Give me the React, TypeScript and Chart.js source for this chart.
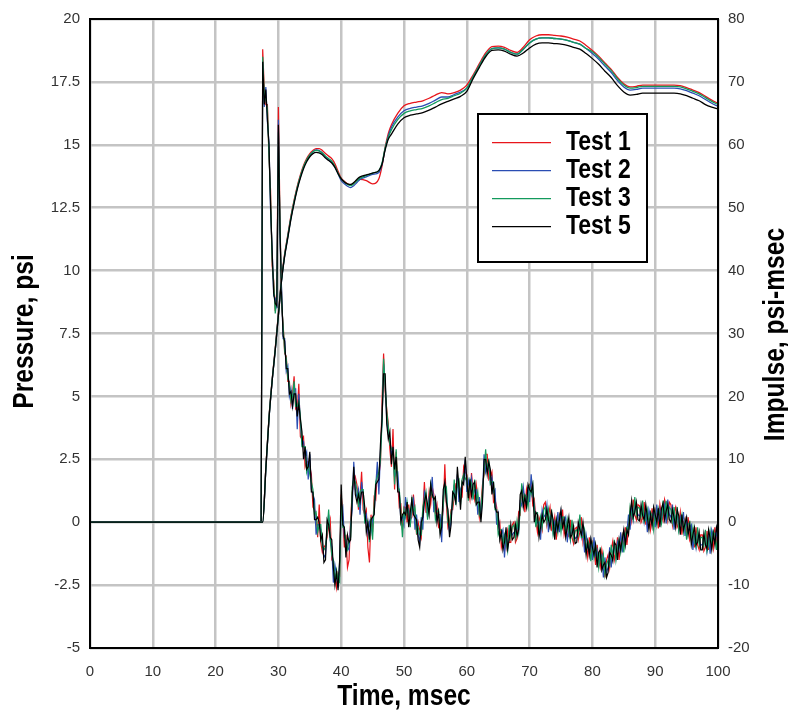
import React, { useEffect, useRef } from "react";
import { Chart, registerables } from "chart.js";

Chart.register(...registerables);

// ---------- labels & ticks ----------
const TEST_LABELS = ["Test 1", "Test 2", "Test 3", "Test 5"];
const TEST_COLORS = ["#e8151b", "#2a4db3", "#139a5c", "#000000"];
const X_TICKS = [0, 10, 20, 30, 40, 50, 60, 70, 80, 90, 100];
const PRESSURE_TICKS = [-5, -2.5, 0, 2.5, 5, 7.5, 10, 12.5, 15, 17.5, 20];
const IMPULSE_TICKS = [-20, -10, 0, 10, 20, 30, 40, 50, 60, 70, 80];
const X_TITLE = "Time, msec";
const Y_TITLE = "Pressure, psi";
const Y1_TITLE = "Impulse, psi-msec";

// ---------- pressure (psi): t = 0, then 27.25 .. 100 every 0.25 ms ----------
const PRESSURE_TIME = [0, ...Array.from({ length: 292 }, (_, i) => 27.25 + i * 0.25)];

const TEST1_PRESSURE = [0, 0,
  18.8, 17.2, 16.6, 16.6, 14.5, 13.2, 10.2, 9.6, 8.4, 9.2, 16.5, 12.2, 8.6, 7.9, 6.7, 6.6, 5.6, 5.6, 4.7, 5.1,
  5.8, 4.5, 4.4, 5.5, 3.4, 3.3, 3.4, 2.2, 2.4, 2.4, 2.2, 1.9, 0.6, 0.5, 0.3, -0.6, 0.7, -0.8, -1.2, -1.0,
  -0.9, -0.6, -0.2, 0.1, -1.5, -1.6, -2.1, -2.6, -2.0, -2.1, 1.1, 0.2, -1.0, -0.5, -1.8, -1.5, 0.1, 1.2, 1.6, 1.8,
  1.5, 0.5, 1.0, 2.0, 0.5, 0.3, 0.5, -1.0, -1.6, 0.3, -0.4, 1.0, 0.9, 2.0, 1.9, 2.3, 4.8, 6.7, 5.2, 4.5,
  3.9, 2.9, 2.2, 3.7, 1.3, 2.8, 1.6, 0.6, 0.7, -0.3, 0.6, 0.6, 0.0, 0.7, 0.1, 0.2, 1.1, 0.4, -0.5, 0.0,
  -0.3, -0.6, 0.4, 1.6, 0.4, 0.4, 1.2, 0.7, 1.4, 1.1, 0.4, 0.7, -0.2, -0.1, 0.0, 0.5, 2.3, 0.7, -0.2, 0.0,
  0.5, 0.5, 1.0, 1.5, 1.4, 1.6, 0.9, 1.0, 2.2, 2.0, 1.9, 1.25, 0.9, 1.95, 1.2, 0.9, 1.5, 1.0, 0.2, 0.7,
  1.5, 1.9, 2.7, 2.7, 1.7, 1.8, 2.0, 0.8, 0.9, 0.6, -0.2, 0.0, -1.0, -0.7, -0.6, -1.0, -0.35, -0.8, -0.8, -0.1,
  0.0, -0.8, -0.65, 0.4, 0.3, 1.45, 1.0, 0.4, 1.3, 0.9, 1.5, 1.5, 0.7, 0.9, 0.1, -0.4, 0.2, 0.0, -0.3, 0.7,
  0.8, -0.1, 0.3, 0.6, -0.3, -0.2, 0.2, -0.7, 0.0, 0.3, -0.1, 0.5, -0.5, -0.2, 0.0, -0.6, 0.1, -0.6, -0.85, -0.25,
  -0.2, -0.7, -0.4, 0.2, -0.8, -0.4, -0.9, -1.4, -0.6, -1.25, -0.8, -1.0, -1.7, -0.9, -1.5, -1.8, -1.1, -1.5, -2.2, -1.5,
  -1.3, -1.8, -1.1, -0.75, -1.5, -1.2, -0.6, -1.5, -0.8, -0.5, -0.9, -0.2, -0.9, -0.1, 0.5, 0.06, 0.9, 0.3, 0.1, 0.7,
  0.65, 0.0, 0.16, 0.8, -0.1, 0.4, 0.1, -0.3, 0.55, 0.0, 0.5, 0.3, -0.25, 0.7, 0.25, 0.06, 0.9, 0.65, 0.1, 0.8,
  0.7, -0.1, 0.4, 0.6, -0.2, -0.05, 0.4, -0.5, 0.0, 0.15, -0.4, 0.2, -0.7, -0.5, -0.3, -1.0, -0.2, -0.9, -1.1, -0.5,
  -0.5, -1.15, -1.0, -0.35, -1.1, -0.45, -0.7, -1.05, -0.2, -0.8, -0.3];

const TEST2_PRESSURE = [0, 0,
  18.3, 16.5, 17.3, 15.9, 15.1, 12.4, 10.9, 9.0, 8.9, 8.5, 16.0, 11.4, 9.3, 7.3, 7.3, 6.0, 6.2, 5.0, 5.3, 4.5,
  5.3, 5.3, 3.7, 5.1, 4.0, 3.1, 3.2, 2.6, 2.8, 1.7, 2.7, 1.3, 1.1, 0.9, -0.5, -0.1, -0.1, -0.3, -0.8, -1.4,
  -1.3, -0.2, 0.3, -0.7, -1.0, -2.4, -1.7, -2.1, -2.6, -1.6, 0.4, 0.6, -0.6, -0.7, -1.0, -1.1, -0.1, 0.5, 2.4, 1.3,
  1.0, 1.3, 0.3, 1.6, 1.1, 0.1, 0.3, -0.4, 0.0, -0.4, 0.1, 0.4, 1.4, 2.4, 1.1, 2.8, 4.0, 6.3, 5.6, 4.1,
  3.5, 3.3, 2.7, 2.9, 1.8, 2.0, 2.0, 1.1, 0.1, 0.2, -0.1, 1.0, 0.4, 0.5, -0.1, 0.6, 0.9, -0.3, 0.3, -0.5,
  -0.8, 0.2, -0.3, 1.2, 1.0, 0.2, 1.0, 1.1, 1.8, 0.4, 0.9, 0.1, 0.3, 0.3, -0.8, 1.0, 1.5, 1.2, 0.2, -0.4,
  0.1, 0.9, 1.5, 0.7, 1.9, 0.8, 1.3, 1.5, 1.6, 2.5, 1.2, 1.65, 1.3, 1.75, 1.0, 1.3, 1.3, 0.3, 1.0, 0.2,
  1.0, 2.7, 2.0, 2.3, 2.3, 1.6, 1.8, 1.2, 1.3, -0.1, 0.3, -0.6, -0.5, -0.3, -1.4, -0.5, -1.15, -0.3, -0.4, -0.5,
  -0.4, -0.4, -0.15, -0.4, 0.8, 0.65, 1.4, 0.9, 0.7, 1.4, 0.8, 1.9, 1.1, 0.7, -0.1, 0.0, 0.0, -0.7, 0.5, 0.2,
  0.3, 0.7, -0.4, 0.2, 0.3, -0.4, 0.0, -0.3, 0.4, -0.4, 0.4, -0.1, 0.0, 0.2, -0.8, -0.1, -0.7, -0.1, -0.45, -0.65,
  -0.6, -0.3, 0.1, -0.6, -0.3, -1.2, -0.5, -0.9, -1.2, -0.75, -1.5, -0.6, -1.3, -1.1, -1.7, -1.4, -1.3, -2.2, -1.4, -2.0,
  -1.8, -1.0, -1.8, -1.15, -0.9, -1.4, -0.8, -1.1, -0.4, -1.2, -0.4, -0.8, -0.4, 0.3, -0.3, 0.56, 0.1, 0.8, 0.5, 0.3,
  0.25, 0.4, 0.66, 0.0, 0.4, -0.4, 0.5, 0.2, -0.05, 0.5, -0.2, 0.7, 0.15, 0.5, 0.05, 0.46, 0.7, -0.05, 0.9, 0.3,
  0.2, 0.7, -0.3, 0.2, 0.4, -0.25, 0.2, -0.1, 0.4, -0.55, 0.1, -0.4, -0.2, -0.1, -1.1, -0.5, -1.0, -0.4, -0.7, -0.9,
  -0.9, -0.75, -0.5, -1.15, -0.6, -1.25, -0.3, -0.55, -0.8, -0.3, -1.0];

const TEST3_PRESSURE = [0, 0,
  18.5, 17.0, 16.8, 16.4, 14.6, 12.9, 10.4, 9.5, 8.3, 8.9, 15.5, 12.0, 8.8, 7.8, 6.8, 6.5, 5.7, 5.5, 4.8, 5.0,
  5.6, 4.6, 4.6, 4.8, 4.2, 3.0, 3.0, 3.0, 2.0, 2.3, 1.9, 1.6, 1.3, 0.3, 0.4, -0.4, -0.1, -0.1, -1.0, -1.1,
  -1.0, -0.4, 0.5, -0.7, -1.3, -1.5, -2.3, -1.9, -2.3, -2.4, 1.0, -0.2, -0.2, -0.9, -1.1, -0.7, -0.6, 1.4, 1.7, 1.6,
  1.3, 0.6, 1.2, 1.3, 1.3, 0.0, 0.1, 0.0, -0.8, 0.2, -0.7, 0.7, 1.6, 1.8, 2.0, 2.5, 4.0, 6.5, 5.4, 4.4,
  3.8, 3.1, 2.9, 2.9, 1.5, 2.9, 1.4, 1.3, 0.4, -0.6, 0.5, 0.2, 0.8, 0.3, -0.2, 1.0, 0.4, 0.6, -0.4, -0.2,
  -0.5, -0.5, 0.6, 0.9, 1.2, 0.1, 0.8, 1.5, 1.0, 1.0, 0.1, 0.4, 0.5, -0.3, 0.1, 0.7, 1.5, 1.4, 0.0, -0.1,
  0.4, 0.7, 1.7, 0.7, 1.6, 1.7, 0.7, 1.7, 1.9, 1.7, 1.8, 0.85, 1.7, 1.55, 0.9, 1.7, 0.8, 1.2, 0.3, 0.5,
  1.3, 2.0, 2.9, 2.0, 2.5, 1.5, 1.6, 1.6, 0.5, 0.5, -0.5, -0.3, -0.3, -0.9, -0.5, -0.8, -1.15, -0.1, -0.6, -0.2,
  -0.1, -0.6, 0.05, -0.4, 0.5, 1.55, 0.8, 1.1, 1.0, 0.6, 1.4, 1.1, 1.5, 0.5, -0.2, 0.4, -0.5, 0.2, -0.2, 0.5,
  0.6, 0.0, 0.5, -0.1, 0.5, -0.5, -0.2, 0.1, -0.4, 0.2, -0.4, 0.2, 0.2, -0.4, 0.1, -0.4, -0.7, 0.1, -0.65, -0.35,
  -0.3, -0.5, 0.3, -0.6, -0.6, -0.3, -1.1, -0.7, -0.9, -1.55, -0.9, -1.4, -0.9, -1.3, -1.8, -1.0, -1.8, -1.3, -2.1, -1.7,
  -1.5, -1.7, -0.9, -1.45, -0.7, -1.5, -1.0, -0.7, -1.2, -0.6, -1.2, -0.5, -0.2, -0.3, 0.6, 0.26, 0.1, 1.0, 0.3, 0.6,
  0.55, 0.2, 0.86, 0.0, 0.1, 0.5, -0.1, 0.4, 0.25, -0.3, 0.4, -0.1, 0.55, 0.3, -0.05, 0.86, 0.2, 0.85, 0.2, 0.6,
  0.5, 0.0, 0.6, -0.1, 0.6, -0.35, 0.0, 0.3, -0.4, 0.05, -0.7, -0.1, 0.0, -0.7, -0.2, -0.8, -1.0, -0.2, -0.9, -0.6,
  -0.6, -0.95, -0.3, -1.15, -0.9, -0.35, -0.9, -0.35, -0.5, -1.1, -0.4];

const TEST5_PRESSURE = [0, 0,
  18.3, 16.6, 17.2, 16.0, 15.0, 12.6, 10.8, 9.1, 8.7, 8.6, 15.8, 11.6, 9.2, 7.4, 7.2, 6.1, 6.1, 5.1, 5.2, 4.6,
  5.1, 5.1, 4.2, 4.7, 4.1, 3.6, 2.5, 3.0, 2.1, 2.2, 2.8, 1.2, 1.2, 0.1, 0.1, 0.2, 0.0, -0.7, -0.5, -1.6,
  -1.5, 0.1, -0.1, -0.6, -0.7, -1.8, -2.5, -2.0, -2.7, -1.5, 1.5, -0.1, -0.2, -1.4, -0.5, -0.8, -0.7, 1.0, 2.2, 1.1,
  0.8, 1.1, 0.8, 1.2, 1.2, 0.6, -0.4, 0.0, -0.7, 0.1, 0.2, 0.3, 1.5, 1.6, 1.7, 3.1, 4.1, 5.9, 5.9, 3.9,
  3.3, 3.6, 2.3, 3.0, 2.1, 2.6, 1.2, 1.2, 0.0, 0.3, 0.4, 0.3, 0.8, -0.2, 0.4, 0.9, 0.3, 0.2, 0.1, -0.7,
  -1.0, 0.0, 0.2, 0.8, 1.1, 0.7, 0.3, 1.5, 1.1, 0.9, 1.0, 0.0, 0.4, -0.5, -0.2, 1.3, 1.6, 0.8, 0.5, -0.6,
  -0.1, 1.2, 1.1, 0.8, 2.2, 1.4, 0.5, 1.6, 1.5, 2.6, 1.7, 0.95, 1.7, 1.05, 1.5, 1.6, 0.7, 0.8, 0.8, 0.0,
  0.8, 2.5, 2.5, 1.9, 2.4, 2.1, 1.1, 1.6, 0.6, 0.4, 0.4, -0.7, -0.4, -1.1, -0.8, -0.2, -1.05, -0.7, -0.1, -0.7,
  -0.6, -0.1, -0.55, -0.3, 1.1, 1.25, 0.6, 1.0, 0.6, 1.5, 1.3, 1.2, 1.5, 0.0, 0.4, 0.3, -0.6, -0.2, 0.3, 0.0,
  0.1, 0.5, 0.1, -0.2, 0.4, 0.1, -0.7, 0.1, -0.3, 0.1, 0.5, -0.2, 0.1, -0.6, -0.2, 0.2, -0.6, -0.5, -0.15, -0.85,
  -0.8, 0.0, -0.3, -0.5, 0.0, -0.6, -1.3, -0.8, -1.3, -0.65, -1.0, -1.3, -0.9, -1.8, -1.2, -1.1, -1.9, -1.7, -1.6, -2.2,
  -2.0, -1.2, -1.3, -1.55, -0.8, -0.9, -1.5, -0.7, -1.1, -0.7, -0.3, -0.9, -0.3, -0.5, 0.3, 0.86, 0.2, 0.4, 0.8, 0.1,
  0.05, 0.7, 0.26, 0.1, 0.7, 0.2, -0.3, 0.3, -0.15, 0.6, 0.3, 0.0, 0.55, -0.2, 0.55, 0.76, 0.1, 0.45, 0.7, 0.1,
  0.0, 0.5, 0.2, -0.2, 0.5, 0.25, -0.5, 0.3, -0.3, -0.05, 0.2, -0.5, -0.1, -0.9, -0.5, -0.2, -0.9, -0.8, -0.4, -1.1,
  -1.1, -0.45, -0.9, -1.05, -0.3, -0.65, -1.1, -0.45, -0.9, -0.2, -0.5];

// ---------- impulse (psi-msec) ----------
const IMPULSE_TIME = [0, 27.5,
  28, 28.5, 29, 29.5, 30, 30.5, 31, 31.5, 32, 32.5, 33, 33.5, 34, 34.5, 35, 35.5, 36, 36.5, 37, 37.5,
  38, 38.5, 39, 39.5, 40, 40.5, 41, 41.5, 42, 42.5, 43,
  44, 45, 46, 46.5, 47, 47.5,
  48, 49, 50, 51, 52, 53, 54, 55, 56, 57, 58, 59, 60, 61, 62, 63, 64, 65, 66, 67, 68, 69, 70, 71, 72, 73,
  74, 75, 76, 77, 78, 79, 80, 81, 82, 83, 84, 85, 86, 87, 88, 89, 90, 91, 92, 93, 94, 95, 96, 97, 98, 99, 100];

const TEST1_IMPULSE = [0, 0,
  8.6, 16.6, 22.6, 27.7, 33.2, 38.7, 42.7, 45.7, 48.7, 51.2, 53.4, 55.2, 56.7, 57.8, 58.6, 59.1, 59.4, 59.4, 59.1, 58.6,
  58.2, 57.8, 57.0, 55.8, 54.7, 54.2, 53.8, 53.6, 53.9, 54.4, 54.5,
  54.3, 53.8, 54.6, 56.6, 59.6, 61.8,
  63.2, 65.0, 66.2, 66.6, 66.8, 67.0, 67.4, 67.9, 68.3, 68.1, 68.3, 68.7, 69.5, 71.1, 72.9, 74.6, 75.6, 75.7, 75.5, 75.0, 74.7, 75.5, 76.7, 77.3, 77.5, 77.5,
  77.4, 77.3, 77.1, 76.8, 76.5, 75.8, 75.0, 74.1, 73.0, 72.0, 70.7, 69.7, 69.2, 69.3, 69.5, 69.5, 69.5, 69.5, 69.5, 69.5, 69.4, 69.1, 68.7, 68.3, 67.7, 67.1, 66.6];

const TEST2_IMPULSE = [0, 0,
  8.4, 16.4, 22.4, 27.4, 32.9, 38.4, 42.4, 45.4, 48.4, 50.9, 53.1, 54.9, 56.4, 57.5, 58.3, 58.9, 59.2, 59.1, 58.7, 58.1,
  57.6, 57.2, 56.5, 55.4, 54.3, 53.8, 53.4, 53.2, 53.5, 54.0, 54.5,
  54.9, 55.3, 55.6, 56.9, 59.4, 61.4,
  62.8, 64.4, 65.4, 65.8, 66.0, 66.2, 66.6, 67.1, 67.6, 67.6, 68.0, 68.4, 69.0, 70.8, 72.6, 74.3, 75.3, 75.4, 75.2, 74.7, 74.4, 75.2, 76.2, 76.8, 77.0, 77.0,
  76.9, 76.8, 76.6, 76.3, 76.0, 75.3, 74.5, 73.6, 72.5, 71.5, 70.2, 69.2, 68.7, 68.8, 69.0, 69.0, 69.0, 69.0, 69.0, 69.0, 68.9, 68.6, 68.2, 67.8, 67.2, 66.6, 66.1];

const TEST3_IMPULSE = [0, 0,
  8.5, 16.5, 22.5, 27.5, 33.0, 38.5, 42.5, 45.5, 48.5, 51.0, 53.2, 55.0, 56.5, 57.6, 58.4, 58.9, 59.1, 59.0, 58.7, 58.2,
  57.8, 57.4, 56.6, 55.5, 54.6, 54.1, 53.7, 53.5, 53.8, 54.3, 54.7,
  55.1, 55.5, 55.9, 57.1, 59.5, 61.2,
  62.4, 64.0, 65.0, 65.4, 65.6, 65.8, 66.2, 66.7, 67.2, 67.4, 67.8, 68.2, 69.0, 70.8, 72.6, 74.3, 75.3, 75.4, 75.2, 74.7, 74.4, 75.2, 76.2, 76.8, 77.0, 77.0,
  76.9, 76.8, 76.6, 76.3, 76.0, 75.3, 74.8, 73.9, 72.8, 71.8, 70.5, 69.5, 69.0, 69.1, 69.3, 69.3, 69.3, 69.3, 69.3, 69.3, 69.2, 68.9, 68.5, 68.1, 67.5, 66.9, 66.4];

const TEST5_IMPULSE = [0, 0,
  8.5, 16.4, 22.4, 27.4, 32.9, 38.4, 42.3, 45.2, 48.2, 50.7, 52.9, 54.7, 56.2, 57.3, 58.1, 58.6, 58.8, 58.7, 58.4, 57.9,
  57.5, 57.1, 56.4, 55.4, 54.6, 54.1, 53.8, 53.7, 54.0, 54.5, 54.9,
  55.2, 55.5, 55.9, 56.9, 59.2, 60.9,
  61.7, 63.3, 64.3, 64.7, 64.9, 65.1, 65.5, 66.0, 66.5, 66.9, 67.3, 67.7, 68.5, 70.5, 72.3, 74.0, 75.0, 75.1, 74.9, 74.4, 74.1, 74.6, 75.4, 76.0, 76.2, 76.2,
  76.1, 76.0, 75.8, 75.5, 75.2, 74.5, 73.7, 72.8, 71.7, 70.7, 69.4, 68.4, 67.9, 68.0, 68.2, 68.2, 68.2, 68.2, 68.2, 68.2, 68.1, 67.8, 67.4, 67.0, 66.4, 66.0, 65.7];

const PRESSURE_SERIES = [TEST1_PRESSURE, TEST2_PRESSURE, TEST3_PRESSURE, TEST5_PRESSURE];
const IMPULSE_SERIES = [TEST1_IMPULSE, TEST2_IMPULSE, TEST3_IMPULSE, TEST5_IMPULSE];

// ---------- styling ----------
const W = 788;
const H = 711;
const GRID_COLOR = "#c4c4c4";
const TICK_COLOR = "#333333";
const TICK_FONT = { family: "'Liberation Sans', Arial, sans-serif", size: 15 };
const BOLD_FAMILY = "'Liberation Sans', Arial, sans-serif";
const NARROW = 0.82;

function pairs(times: number[], values: number[]) {
  const n = Math.min(times.length, values.length);
  const out: { x: number; y: number }[] = [];
  for (let i = 0; i < n; i++) out.push({ x: times[i], y: values[i] });
  return out;
}

function fmt(v: number) {
  return String(Math.round(v * 100) / 100);
}

function narrowText(ctx: CanvasRenderingContext2D, text: string, x: number, y: number, rot: number, px: number, align: CanvasTextAlign) {
  ctx.save();
  ctx.translate(x, y);
  ctx.rotate(rot);
  ctx.scale(NARROW, 1);
  ctx.font = `bold ${px}px ${BOLD_FAMILY}`;
  ctx.fillStyle = "#000";
  ctx.textAlign = align;
  ctx.textBaseline = "middle";
  ctx.fillText(text, 0, 0);
  ctx.restore();
}

const decorPlugin = {
  id: "decor",
  beforeDraw(chart: any) {
    const ctx = chart.ctx;
    ctx.save();
    ctx.fillStyle = "#ffffff";
    ctx.fillRect(0, 0, chart.width, chart.height);
    ctx.restore();
  },
  afterDatasetsDraw(chart: any) {
    const { ctx, chartArea: a } = chart;
    ctx.save();
    ctx.strokeStyle = "#000";
    ctx.lineWidth = 2;
    ctx.strokeRect(a.left, a.top, a.right - a.left, a.bottom - a.top);
    ctx.restore();
  },
  afterDraw(chart: any) {
    const { ctx, chartArea: a } = chart;
    const midY = (a.top + a.bottom) / 2;
    narrowText(ctx, X_TITLE, (a.left + a.right) / 2, 697, 0, 30, "center");
    narrowText(ctx, Y_TITLE, 24.5, midY - 2, -Math.PI / 2, 30, "center");
    narrowText(ctx, Y1_TITLE, 776, midY + 1, -Math.PI / 2, 30, "center");
    const bx = 478, by = 114, bw = 169, bh = 148;
    ctx.save();
    ctx.fillStyle = "#fff";
    ctx.fillRect(bx, by, bw, bh);
    ctx.strokeStyle = "#000";
    ctx.lineWidth = 2;
    ctx.strokeRect(bx, by, bw, bh);
    TEST_LABELS.forEach((lab, i) => {
      const y = 142.7 + i * 28;
      ctx.strokeStyle = TEST_COLORS[i];
      ctx.lineWidth = 1.3;
      ctx.beginPath();
      ctx.moveTo(492, y);
      ctx.lineTo(551, y);
      ctx.stroke();
      narrowText(ctx, lab, 566, y, 0, 28, "left");
    });
    ctx.restore();
  },
};

export default function App() {
  const ref = useRef<HTMLCanvasElement | null>(null);

  useEffect(() => {
    document.body.style.margin = "0";
    const canvas = ref.current;
    if (!canvas) return;

    const datasets: any[] = [];
    PRESSURE_SERIES.forEach((vals, i) => {
      datasets.push({
        label: TEST_LABELS[i] + " pressure",
        data: pairs(PRESSURE_TIME, vals),
        yAxisID: "y",
        borderColor: TEST_COLORS[i],
        borderWidth: 1.2,
        pointRadius: 0,
        tension: 0,
        fill: false,
        order: 8 - i,
      });
    });
    IMPULSE_SERIES.forEach((vals, i) => {
      datasets.push({
        label: TEST_LABELS[i] + " impulse",
        data: pairs(IMPULSE_TIME, vals),
        yAxisID: "y1",
        borderColor: TEST_COLORS[i],
        borderWidth: 1.3,
        pointRadius: 0,
        cubicInterpolationMode: "monotone",
        fill: false,
        order: 4 - i,
      });
    });

    const chart = new Chart(canvas, {
      type: "line",
      data: { datasets },
      options: {
        animation: false,
        responsive: false,
        devicePixelRatio: 1,
        layout: { padding: { top: 18, left: 0, right: 0, bottom: 0 } },
        plugins: { legend: { display: false }, tooltip: { enabled: false }, title: { display: false } },
        scales: {
          x: {
            type: "linear",
            min: 0,
            max: 100,
            afterBuildTicks: (ax: any) => { ax.ticks = X_TICKS.map((v) => ({ value: v })); },
            afterFit: (s: any) => { s.height = 63; },
            ticks: { font: TICK_FONT, color: TICK_COLOR, padding: 15, maxRotation: 0, autoSkip: false, callback: (v: any) => fmt(Number(v)) },
            grid: { color: GRID_COLOR, lineWidth: 2.5, drawTicks: false },
            border: { display: false },
          },
          y: {
            type: "linear",
            position: "left",
            min: -5,
            max: 20,
            afterBuildTicks: (ax: any) => { ax.ticks = PRESSURE_TICKS.map((v) => ({ value: v })); },
            afterFit: (s: any) => { s.width = 90; },
            ticks: { font: TICK_FONT, color: TICK_COLOR, padding: 10, autoSkip: false, callback: (v: any) => fmt(Number(v)) },
            grid: { color: GRID_COLOR, lineWidth: 2.5, drawTicks: false },
            border: { display: false },
          },
          y1: {
            type: "linear",
            position: "right",
            min: -20,
            max: 80,
            afterBuildTicks: (ax: any) => { ax.ticks = IMPULSE_TICKS.map((v) => ({ value: v })); },
            afterFit: (s: any) => { s.width = 70; },
            ticks: { font: TICK_FONT, color: TICK_COLOR, padding: 10, autoSkip: false, callback: (v: any) => fmt(Number(v)) },
            grid: { display: false, drawTicks: false },
            border: { display: false },
          },
        },
      },
      plugins: [decorPlugin],
    });

    return () => chart.destroy();
  }, []);

  return (
    <div style={{ width: W, height: H, background: "#fff" }}>
      <canvas ref={ref} width={W} height={H} style={{ display: "block", width: W, height: H }} />
    </div>
  );
}
